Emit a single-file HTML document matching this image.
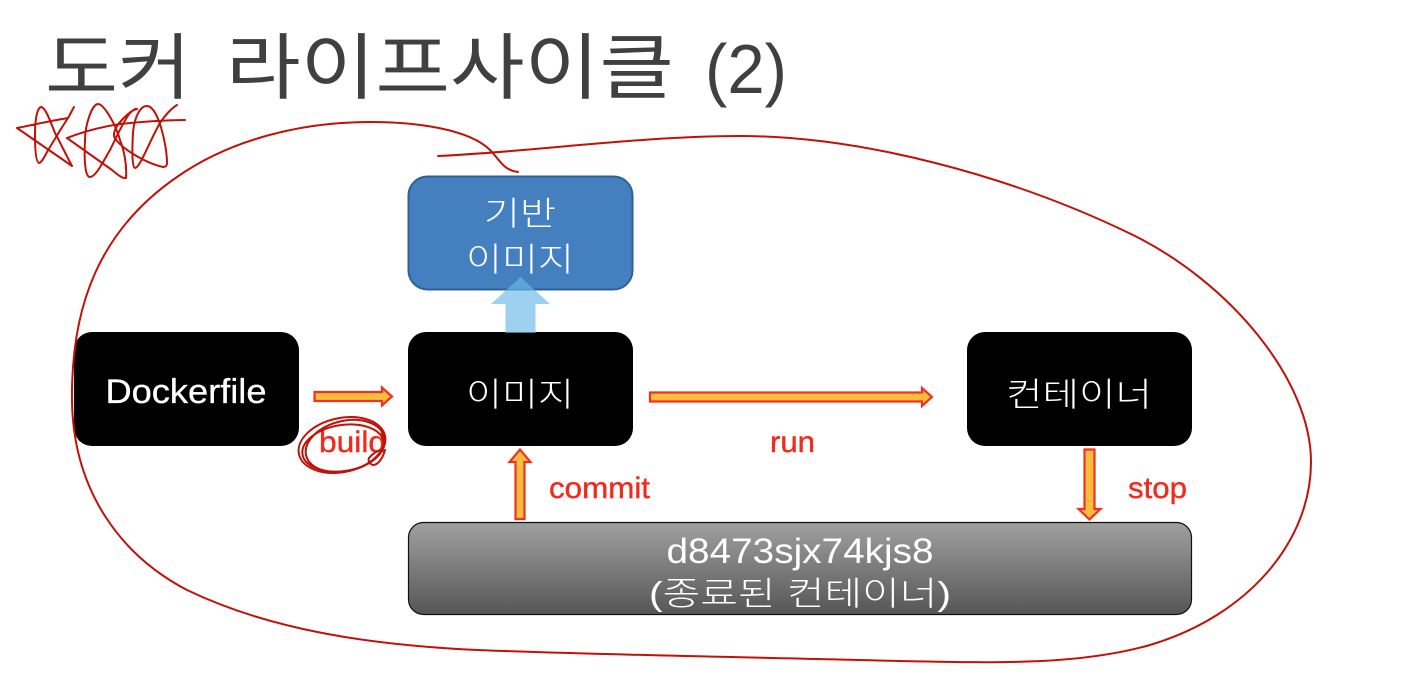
<!DOCTYPE html>
<html lang="ko"><head><meta charset="utf-8"><style>
html,body{margin:0;padding:0;background:#fff}
svg{display:block}
text{font-family:"Liberation Sans","Noto Sans CJK KR",sans-serif}
</style></head><body>
<svg width="1412" height="688" viewBox="0 0 1412 688" xmlns="http://www.w3.org/2000/svg">
<defs><linearGradient id="g" x1="0" y1="0" x2="0" y2="1"><stop offset="0" stop-color="#a0a0a0"/><stop offset="1" stop-color="#565656"/></linearGradient></defs>
<rect width="1412" height="688" fill="#fff"/>
<g fill="#404040" font-size="72">
<text x="45" y="93" textLength="146" lengthAdjust="spacingAndGlyphs">도커</text>
<text x="226" y="93" textLength="448" lengthAdjust="spacingAndGlyphs">라이프사이클</text>
<text x="705" y="93" font-size="70" textLength="82" lengthAdjust="spacingAndGlyphs">(2)</text>
</g>

<rect x="74" y="332" width="225" height="114" rx="18" fill="#000"/>
<rect x="408" y="332" width="225" height="114" rx="18" fill="#000"/>
<rect x="967" y="332" width="225" height="114" rx="18" fill="#000"/>
<rect x="408.500" y="176.500" width="224" height="113" rx="19" fill="#4480c0" stroke="#2f6096" stroke-width="2"/>
<rect x="408.500" y="522.500" width="783" height="92" rx="15" fill="url(#g)" stroke="#111" stroke-width="1.200"/>

<g fill="#fff" text-anchor="middle" font-size="33">
<text x="186" y="403" font-size="34" stroke="#fff" stroke-width=".3" textLength="161" lengthAdjust="spacingAndGlyphs">Dockerfile</text>
<text x="520" y="406" font-weight="300" textLength="108" lengthAdjust="spacingAndGlyphs">이미지</text>
<text x="1079" y="406" font-weight="300" textLength="146" lengthAdjust="spacingAndGlyphs">컨테이너</text>
<text x="520" y="225" font-weight="300" textLength="72" lengthAdjust="spacingAndGlyphs">기반</text>
<text x="520" y="271" font-weight="300" textLength="108" lengthAdjust="spacingAndGlyphs">이미지</text>
<text x="800" y="563" font-size="35" textLength="267" lengthAdjust="spacingAndGlyphs">d8473sjx74kjs8</text>
<text x="800" y="605" font-weight="300" textLength="302" lengthAdjust="spacingAndGlyphs">(종료된 컨테이너)</text>
</g>

<path d="M505.500 333V304H491L520.500 277L550 304H535.500V333Z" fill="#68b8e6" fill-opacity=".65"/>

<g fill="#fcbc3c" stroke="#f03224" stroke-width="2.200">
<path d="M314.500 392H382V387.500L392 396.500L382 405.500V401H314.500Z"/>
<path d="M650 392.500H922V388L932 397L922 406V401.500H650Z"/>
<path d="M515.500 519V462H509.500L520 449.500L530.500 462H524.500V519Z"/>
<path d="M1084.500 449.500H1094.500V509H1100.500L1089.500 519.500L1078.500 509H1084.500Z"/>
</g>

<g fill="#f02a1c" font-size="30" stroke="#f02a1c" stroke-width=".4">
<text x="319" y="452" textLength="67" lengthAdjust="spacingAndGlyphs">build</text>
<text x="770" y="452" textLength="45" lengthAdjust="spacingAndGlyphs">run</text>
<text x="549" y="498" textLength="101" lengthAdjust="spacingAndGlyphs">commit</text>
<text x="1128" y="498" textLength="59" lengthAdjust="spacingAndGlyphs">stop</text>
</g>

<g fill="none" stroke="#c01208" stroke-width="2" stroke-linecap="round" stroke-linejoin="round">
<path d="M438 156C530 152 640 136 740 136C860 136 1010 175 1133 235C1230 283 1311 380 1311 462C1311 540 1250 615 1150 645C1080 665 1000 663 900 661C750 657 600 655 477 650C370 645 270 630 187 590C120 555 73 490 72 400C71 305 100 230 177 177C230 140 300 122 370 122C420 122 470 130 490 150C500 160 503 170 518 172"/>
<path d="M74 107C71 112 70 115 68 118C50 121 32 125 17 128L72 166C66 155 60 142 55 133C50 120 45 107 41 107C37 108 35 120 35 135C35 150 36 162 39 163C42 163 46 153 50 147C56 137 62 127 68 118"/>
<path d="M67 138C85 131 100 127 120 124C140 122 165 120 185 120"/>
<path d="M67 138L112 170C118 175 123 179 126 178C127 165 124 150 120 140C116 125 104 104 98 104C92 104 85 125 85 140C84 160 85 177 90 177C96 177 104 160 110 150C116 138 124 120 130 113C133 110 136 108 137 109C130 110 117 124 115 130C113 135 114 138 117 141C125 150 145 163 163 167C166 167 167 165 167 163C167 145 158 106 147 106C139 106 134 120 133 133C132 150 132 168 135 168C140 168 150 140 160 123C165 115 172 108 177 105"/>
<ellipse cx="342" cy="445" rx="44" ry="27" transform="rotate(-12 342 445)"/>
<ellipse cx="345" cy="446" rx="40" ry="25" transform="rotate(-14 345 446)"/>
<ellipse cx="343" cy="448" rx="41" ry="23" transform="rotate(-9 343 448)"/>
<path d="M385 450C383 458 378 465 373 465C369 464 368 460 369 458C372 454 376 452 380 450"/>
</g>
</svg>
</body></html>
